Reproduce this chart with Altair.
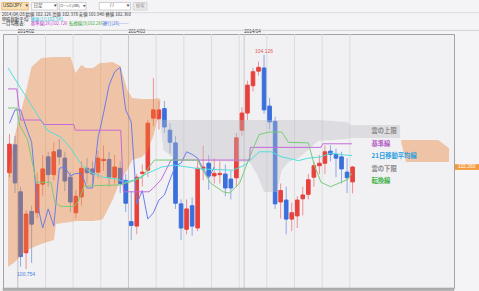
import altair as alt
import pandas as pd

# ---------------- data ----------------
# daily candles 2014/01/30 .. 2014/04/28 (index 0..62)
opens = [102.27, 102.71, 101.97, 101.01, 101.66, 101.64, 102.09, 102.52, 102.24, 102.63,
         102.50, 102.20, 101.64, 101.89, 102.34, 102.33, 102.28, 102.46, 102.48, 102.20,
         102.34, 102.15, 101.50, 101.43, 102.26, 102.31, 103.13, 103.12, 103.28, 102.94,
         102.74, 101.78, 101.38, 101.75, 101.40, 102.34, 102.42, 102.22, 102.24, 102.25,
         102.17, 102.19, 102.94, 103.21, 103.64, 103.87, 103.92, 103.32, 103.08, 101.81,
         101.84, 101.54, 101.59, 101.86, 101.93, 102.20, 102.38, 102.42, 102.61, 102.56,
         102.52, 102.28, 102.126]
closes = [102.72, 102.11, 100.95, 101.62, 101.46, 102.09, 102.33, 102.24, 102.60, 102.52,
          102.14, 101.81, 101.90, 102.34, 102.27, 102.25, 102.50, 102.48, 102.20, 102.36,
          102.10, 101.79, 101.44, 102.20, 102.28, 103.05, 103.26, 103.26, 102.99, 102.75,
          101.79, 101.40, 101.70, 101.43, 102.34, 102.36, 102.22, 102.26, 102.26, 102.03,
          102.03, 102.82, 103.21, 103.65, 103.86, 103.93, 103.26, 103.07, 101.78, 101.99,
          101.54, 101.64, 101.84, 101.92, 102.16, 102.38, 102.42, 102.60, 102.56, 102.50,
          102.33, 102.19, 102.360]
highs = [102.88, 102.85, 102.05, 101.68, 101.75, 102.27, 102.55, 102.60, 102.75, 102.80,
         102.60, 102.28, 102.00, 102.45, 102.50, 102.45, 102.62, 102.70, 102.60, 102.55,
         102.45, 102.25, 101.98, 102.25, 102.40, 103.10, 103.76, 103.40, 103.40, 103.05,
         102.85, 101.85, 101.85, 101.88, 102.45, 102.70, 102.55, 102.50, 102.45, 102.40,
         102.30, 102.90, 103.30, 103.72, 103.92, 104.02, 104.126, 103.45, 103.15, 102.10,
         102.05, 101.80, 101.90, 102.05, 102.25, 102.45, 102.55, 102.70, 102.70, 102.65,
         102.60, 102.50, 102.378]
lows = [102.20, 101.95, 100.79, 100.754, 100.85, 101.55, 101.90, 102.05, 102.15, 102.40,
        101.98, 101.65, 101.55, 101.75, 102.10, 102.05, 102.18, 102.30, 102.05, 102.10,
        101.95, 101.65, 101.21, 101.30, 102.05, 102.20, 103.00, 102.95, 102.90, 102.58,
        101.70, 101.21, 101.30, 101.28, 101.35, 102.15, 102.00, 102.10, 102.10, 101.90,
        101.85, 102.05, 102.85, 103.10, 103.55, 103.80, 103.20, 102.95, 101.70, 101.55,
        101.30, 101.35, 101.40, 101.60, 101.85, 102.05, 102.25, 102.25, 102.45, 102.20,
        102.10, 101.95, 101.946]

# 21-day simple moving average (vertices)
sma_idx = [-0.27, 6.8, 9.27, 11.04, 12.81, 14.57, 16.87, 19.52, 20.76, 22.7, 24.47, 27.47,
           29.77, 34.54, 40.37, 42.5, 45.14, 47.26, 49.21, 52.21, 53.97, 56.27, 58.04, 60.51, 61.92]
sma_val = [103.92, 102.94, 102.83, 102.66, 102.42, 102.28, 102.20, 102.17, 102.12, 102.16, 102.24, 102.36,
           102.39, 102.33, 102.31, 102.39, 102.60, 102.60, 102.52, 102.46, 102.50, 102.52, 102.58, 102.55, 102.541]

# kijun-sen (base line)
kijun_idx = [-0.27, 1.3, 2.0, 5.6, 6.3, 11.6, 11.9, 20.1, 20.6, 25.2, 26.0, 27.4, 28.2, 29.2,
             43.4, 43.5, 56.3, 56.6, 61.92]
kijun_val = [103.59, 103.59, 103.10, 103.10, 103.03, 103.03, 102.94, 102.94, 101.97, 101.97, 102.03, 102.16,
             102.30, 102.47, 102.47, 102.67, 102.67, 102.726, 102.726]

# tenkan-sen (conversion line)
tenkan_idx = [-0.27, 1.3, 1.85, 3.27, 4.86, 7.5, 8.2, 9.3, 11.6, 12.4, 13.5, 20.0, 22.0, 24.0, 25.2,
              26.2, 34.0, 35.0, 36.3, 38.6, 39.8, 41.6, 43.4, 45.1, 46.9, 49.2, 50.4, 54.0, 55.2,
              56.3, 58.0, 61.0, 61.92]
tenkan_val = [103.29, 103.29, 103.02, 102.79, 102.12, 102.12, 101.80, 101.74, 101.74, 101.82, 102.06,
              102.08, 102.13, 102.20, 102.36, 102.47, 102.47, 102.30, 102.11, 101.97, 101.95, 102.11,
              102.52, 102.87, 102.91, 102.91, 102.75, 102.74, 102.36, 102.12, 102.05, 102.16, 102.266]

chikou_shift = 25  # lagging span = closes drawn 25 bars back

# cloud pieces (orange = first, gray = second, orange = future)
o1_idx = [-0.27, 0.97, 2.74, 3.97, 5.74, 8.04, 8.39, 11.04, 11.92, 12.98, 13.87, 15.10, 16.34, 16.87,
          18.64, 20.05, 21.29, 22.17, 23.94, 24.82, 26.06, 26.94, 27.30]
o1_top = [102.235, 102.865, 103.463, 103.935, 104.077, 104.093, 104.093, 104.093, 103.841, 103.967,
          103.920, 103.920, 103.998, 103.998, 104.014, 103.951, 103.573, 103.447, 103.431, 103.431,
          103.431, 103.447, 103.416]
o1_bot = [100.786, 100.865, 101.022, 101.085, 101.148, 101.211, 101.463, 101.494, 101.510, 101.510,
          101.510, 101.510, 101.526, 101.542, 101.841, 102.156, 102.313, 102.471, 102.518, 102.597,
          102.865, 103.180, 103.416]
g_idx = [27.12, 27.83, 30.12, 43.37, 44.79, 46.02, 48.32, 49.21, 50.44, 52.21, 53.97, 55.74, 61.04, 61.57, 70.58]
g_top = [103.132, 103.101, 103.101, 103.101, 103.101, 103.101, 103.101, 103.101, 103.101, 103.101,
         103.101, 103.101, 103.069, 103.022, 103.022]
g_bot = [103.132, 102.628, 102.471, 102.439, 102.235, 101.967, 101.967, 102.313, 102.439, 102.502,
         102.628, 102.770, 102.802, 102.817, 102.817]
o2_idx = [70.76, 71.64, 77.47, 79.42]
o2_top = [102.786, 102.786, 102.786, 102.660]
o2_bot = [102.754, 102.439, 102.439, 102.439]

week_idx = [1.5, 6.5, 11.5, 16.5, 21.5, 26.5, 31.5, 36.5, 41.5, 46.5, 51.5, 56.5, 61.5]
month_idx = [1.5, 21.5, 42.4]
month_labels = ["2014/02", "2014/03", "2014/04"]
y_ticks = [100.6, 100.8, 101.0, 101.2, 101.4, 101.6, 101.8, 102.0, 102.2, 102.4, 102.6, 102.8,
           103.0, 103.2, 103.4, 103.6, 103.8, 104.0, 104.2, 104.4]

# ---------------- chart ----------------
RED, BLUE = "#e8413c", "#3a6fdc"
JP, LAT = "Noto Sans CJK JP", "Liberation Sans"

n = len(closes)
df = pd.DataFrame({"i": list(range(n)), "open": opens, "high": highs, "low": lows, "close": closes})
df["dir"] = ["up" if c >= o else "down" for o, c in zip(opens, closes)]

xs = alt.Scale(domain=[-0.27, 79.42], nice=False, zero=False)
ys = alt.Scale(domain=[100.455, 104.455], nice=False, zero=False)
cscale = alt.Scale(domain=["up", "down"], range=[RED, BLUE])


def X(f):
    return alt.X(f, type="quantitative", scale=xs, axis=None)


def Y(f):
    return alt.Y(f, type="quantitative", scale=ys, axis=None)


def ldf(idx, val):
    return pd.DataFrame({"i": idx, "v": val, "k": list(range(len(idx)))})


def adf(idx, top, bot):
    return pd.DataFrame({"i": idx, "top": top, "bot": bot})


dummy = pd.DataFrame({"a": [0]})


def box(x0, x1, y0, y1, fill, stroke):
    return alt.Chart(dummy).mark_rect(fill=fill, stroke=stroke, strokeWidth=0.6).encode(
        x=alt.value(x0), x2=alt.value(x1), y=alt.value(y0), y2=alt.value(y1))


def label(txt, x, y, size, color, align="left", weight="normal", font=JP):
    return alt.Chart(dummy).mark_text(text=txt, align=align, baseline="middle", fontSize=size,
                                      color=color, fontWeight=weight, font=font).encode(
        x=alt.value(x), y=alt.value(y))


def hline(x0, x1, y, color):
    return alt.Chart(dummy).mark_rule(color=color, strokeWidth=0.8).encode(
        x=alt.value(x0), x2=alt.value(x1), y=alt.value(y))


grid = alt.Chart(pd.DataFrame({"i": week_idx})).mark_rule(color="#dcdcde", strokeWidth=1).encode(x=X("i"))
mgrid = alt.Chart(pd.DataFrame({"i": month_idx})).mark_rule(color="#c9c9cc", strokeWidth=1).encode(x=X("i"))
mlabels = alt.Chart(pd.DataFrame({"i": month_idx, "t": month_labels})).mark_text(
    align="left", baseline="middle", fontSize=4.6, font=LAT, color="#333", dx=0).encode(
    x=X("i"), y=alt.value(-2.2), text="t:N")

wicks = alt.Chart(df).mark_rule(strokeWidth=1, opacity=0.55).encode(
    x=X("i"), y=Y("low"), y2="high:Q", color=alt.Color("dir:N", scale=cscale, legend=None))
yaxis = alt.Axis(orient="right", values=y_ticks, format=".3f", labelFontSize=5, labelFont=LAT,
                 labelColor="#444", ticks=False, domain=False, grid=False, labelPadding=4, title=None)
bodies = alt.Chart(df).mark_bar(size=3.6, strokeWidth=1).encode(
    x=X("i"), y=alt.Y("open:Q", scale=ys, axis=yaxis), y2="close:Q",
    color=alt.Color("dir:N", scale=cscale, legend=None),
    stroke=alt.Stroke("dir:N", scale=cscale, legend=None))

cloud1 = alt.Chart(adf(o1_idx, o1_top, o1_bot)).mark_area(color="#ee8232", opacity=0.4, clip=True).encode(
    x=X("i"), y=Y("top"), y2="bot:Q")
cloud2 = alt.Chart(adf(g_idx, g_top, g_bot)).mark_area(color="#bdbdc2", opacity=0.38, clip=True).encode(
    x=X("i"), y=Y("top"), y2="bot:Q")
cloud3 = alt.Chart(adf(o2_idx, o2_top, o2_bot)).mark_area(color="#ee8232", opacity=0.4, clip=True).encode(
    x=X("i"), y=Y("top"), y2="bot:Q")


def line(d, color, w=1.0):
    return alt.Chart(d).mark_line(color=color, strokeWidth=w, clip=True).encode(
        x=X("i"), y=Y("v"), order="k:Q")


chikou_df = ldf(list(range(n - chikou_shift)), closes[chikou_shift:])
l_chikou = line(chikou_df, "#6a7cec")
l_sma = line(ldf(sma_idx, sma_val), "#52dede")
l_kijun = line(ldf(kijun_idx, kijun_val), "#c56ad8")
l_tenkan = line(ldf(tenkan_idx, tenkan_val), "#78cc78")

hi_i = highs.index(max(highs))
lo_i = lows.index(min(lows))
hi_lbl = alt.Chart(pd.DataFrame({"i": [hi_i], "v": [highs[hi_i]], "t": [f"{highs[hi_i]:.3f}"]})).mark_text(
    dy=-4, fontSize=5, font=LAT, color="#e25a5a", baseline="middle").encode(x=X("i"), y=Y("v"), text="t:N")
lo_lbl = alt.Chart(pd.DataFrame({"i": [lo_i], "v": [lows[lo_i]], "t": [f"{lows[lo_i]:.3f}"]})).mark_text(
    dy=5, fontSize=5, font=LAT, color="#4a7ee0", baseline="middle").encode(x=X("i"), y=Y("v"), text="t:N")

last = closes[-1]
tag_df = pd.DataFrame({"v": [last], "lo": [last - 0.045], "hi": [last + 0.045], "t": [f"{last:.3f}"]})
tag_rect = alt.Chart(tag_df).mark_rect(color="#f49a3c").encode(
    x=alt.value(452), x2=alt.value(476), y=Y("lo"), y2="hi:Q")
tag_text = alt.Chart(tag_df).mark_text(color="white", fontSize=4.8, font=LAT, align="left",
                                       baseline="middle").encode(x=alt.value(455), y=Y("v"), text="t:N")

# right side legend labels
legend = [
    label("雲の上限", 368.5, 97, 6.3, "#8a8a8a", weight="bold"),
    label("基準線", 368.5, 109.5, 6.3, "#b45cc8", weight="bold"),
    label("21日移動平均線", 368.5, 122, 6.3, "#2a9fe0", weight="bold"),
    label("雲の下限", 368.5, 134.5, 6.3, "#8a8a8a", weight="bold"),
    label("転換線", 368.5, 147, 6.3, "#3bb040", weight="bold"),
]

# header (controls + info rows)
row2 = (f"2014/04/28 始値 {opens[-1]:.3f} 高値 {highs[-1]:.3f} "
        f"安値 {lows[-1]:.3f} 終値 {closes[-1]:.3f}")
header = [
    hline(-3, 476, -21.3, "#d6d6d8"),
    hline(-3, 476, -3.6, "#c8c8ca"),
    box(-1.3, 25.3, -31.5, -24, "#fbe2b4", "#e6a24a"),
    label("USD/JPY", 0, -27.7, 4.5, "#333", font=LAT),
    label("▼", 22.2, -27.7, 3, "#555"),
    box(28.7, 54.3, -31.5, -24, "#ffffff", "#b4b4b4"),
    label("日足", 30.5, -27.7, 4.5, "#333"),
    label("▼", 50.8, -27.7, 3, "#555"),
    box(56.3, 83, -31.5, -24, "#ffffff", "#b4b4b4"),
    label("ローソク(OBD)", 57.2, -27.7, 2.9, "#333"),
    label("▼", 80.0, -27.7, 2.6, "#555"),
    box(96.3, 127.5, -31.5, -24, "#ffffff", "#b4b4b4"),
    label("/     /", 107, -27.7, 4.5, "#333", font=LAT),
    label("▼", 123.5, -27.7, 3, "#555"),
    box(130.3, 144, -31.5, -24, "#ececec", "#c4c4c4"),
    label("検索", 137.2, -27.7, 4.5, "#9a9a9a", align="center"),
    label(row2, -1.3, -19.3, 4.4, "#333"),
    label("単純移動平均:", -1.3, -14.4, 4.4, "#333"),
    label(f"終値[21]{sma_val[-1]:.3f}", 27.7, -14.4, 4.4, "#25b8d8"),
    label("一目均衡表:", -1.3, -9.7, 4.4, "#333"),
    label(f"基準線[26]{kijun_val[-1]:.3f}", 27.7, -9.7, 4.4, "#c040c8"),
    label(f"転換線[9]{tenkan_val[-1]:.3f}", 66, -9.7, 4.4, "#3aa83a"),
    label("遅行[26]------", 99.7, -9.7, 4.4, "#3a5ee0"),
]
bottom_bar = box(0, 451, 254, 256.5, "#ababab", "#ababab")

chart = alt.layer(
    grid, mgrid, wicks, bodies, cloud1, cloud2, cloud3,
    l_chikou, l_sma, l_kijun, l_tenkan,
    hi_lbl, lo_lbl, tag_rect, tag_text, mlabels, bottom_bar,
    *legend, *header
).properties(
    width=451, height=254, background="#f4f4f6",
    padding={"left": 3, "top": 34, "right": 25, "bottom": 3},
    autosize=alt.AutoSizeParams(type="none"),
).configure_view(fill="#f1f1f4", stroke="#a4a4a6", strokeWidth=1)

chart.save("out.html", embed_options={"renderer": "svg", "actions": False})
